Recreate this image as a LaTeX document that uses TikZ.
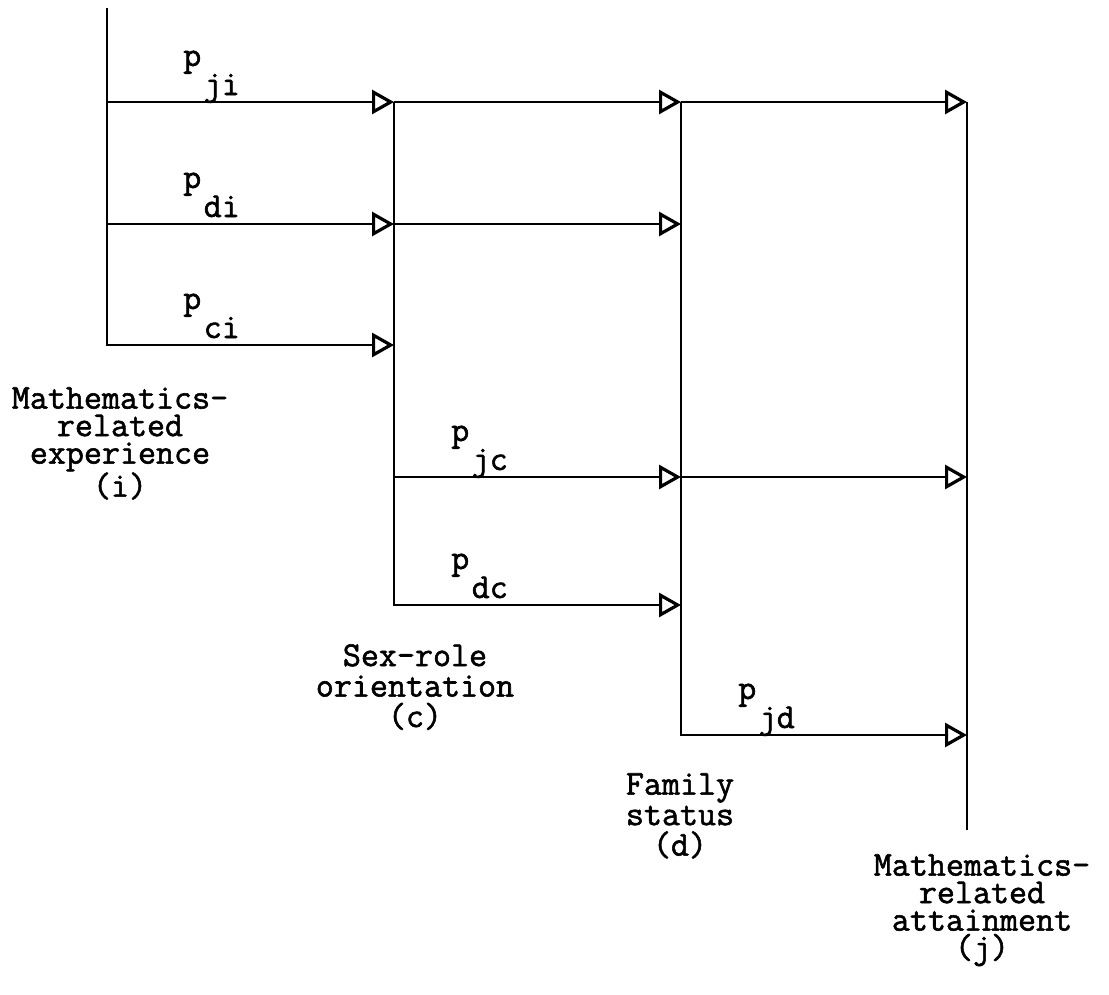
\documentclass[tikz,border=0pt]{standalone}
\usepackage{fontspec}
\newfontfamily\typewriter{Latin Modern Mono}[FakeBold=1.6]
\usetikzlibrary{arrows.meta}

\begin{document}
\begin{tikzpicture}[x=1pt,y=-1pt,line width=2.5pt,
  effect/.style={-{Triangle[open,length=22pt,width=24pt,line width=3.2pt]}},
  var/.style={font=\typewriter\fontsize{35}{27.5}\selectfont,align=center,anchor=north,inner sep=0pt},
  coef/.style={font=\typewriter\fontsize{35}{35}\selectfont,anchor=base west,inner sep=0pt}]
\useasboundingbox (0,0) rectangle (1109,994);
% junctions: one column per variable, one row per path
\foreach \col/\x in {i/107,c/394,d/681,j/967}
  \foreach \row/\y in {1/102,2/224,3/345,4/477,5/605,6/735}
    \coordinate (\col\row) at (\x,\y);
\coordinate (itop) at (107,8);
\coordinate (jbot) at (967,830);
% variable lines and paths
\draw[effect] (itop) -- (i3) -- (c3);
\draw[effect] (c1) -- (c5) -- (d5);
\draw[effect] (d1) -- (d6) -- (j6);
\draw (j1) -- (jbot);
\draw[effect] (i1) -- (c1);
\draw[effect] (c1) -- (d1);
\draw[effect] (d1) -- (j1);
\draw[effect] (i2) -- (c2);
\draw[effect] (c2) -- (d2);
\draw[effect] (c4) -- (d4);
\draw[effect] (d4) -- (j4);
% path coefficients
\foreach \name/\at/\dx in {ji/i1/75,di/i2/75,ci/i3/75,jc/c4/56,dc/c5/56,jd/d6/56}{
  \node[coef] (p\name) at ([xshift=\dx pt,yshift=36pt]\at) {p};
  \node[coef] (p\name-sub) at ([yshift=-29pt]p\name.base east) {\name};
}
% variables
\node[var] (expi) at (120,386) {Mathematics-\\related\\experience\\(i)};
\node[var,font=\typewriter\fontsize{35}{30.5}\selectfont] (sexc) at (415,643) {Sex-role\\orientation\\(c)};
\node[var,font=\typewriter\fontsize{35}{30.5}\selectfont] (famd) at (680,772) {Family\\status\\(d)};
\node[var] (attj) at (982,853) {Mathematics-\\related\\attainment\\(j)};
\end{tikzpicture}
\end{document}
